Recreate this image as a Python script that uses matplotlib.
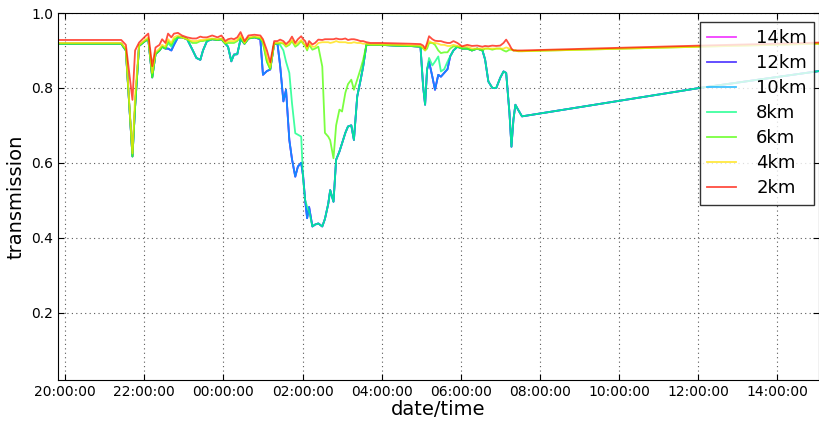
import matplotlib
matplotlib.use("Agg")
import matplotlib.pyplot as plt
import matplotlib.dates as mdates
import numpy as np
import pandas as pd

times = ["19:49", "21:25", "21:32", "21:42", "21:46", "21:52", "22:01", "22:06", "22:12", "22:17",
         "22:23", "22:27", "22:32", "22:36", "22:41", "22:45", "22:51", "22:57", "23:05", "23:13",
         "23:19", "23:25", "23:29", "23:35", "23:43", "23:51", "23:57", "00:03", "00:07", "00:12",
         "00:16", "00:21", "00:26", "00:32", "00:38", "00:47", "00:56", "01:00", "01:06", "01:11",
         "01:17", "01:22", "01:26", "01:31", "01:35", "01:40", "01:44", "01:49", "01:53", "01:58",
         "02:01", "02:04", "02:07", "02:10", "02:15", "02:19", "02:24", "02:30", "02:34", "02:39",
         "02:42", "02:47", "02:51", "02:56", "03:00", "03:05", "03:09", "03:14", "03:18", "03:23",
         "03:28", "03:32", "03:37", "03:43", "03:58", "04:21", "04:43", "04:59", "05:03", "05:06",
         "05:09", "05:12", "05:17", "05:21", "05:26", "05:30", "05:35", "05:40", "05:44", "05:49",
         "05:55", "06:02", "06:10", "06:17", "06:25", "06:33", "06:37", "06:42", "06:48", "06:54",
         "07:00", "07:05", "07:09", "07:14", "07:17", "07:20", "07:23", "07:27", "07:33", "12:03",
         "15:04"]

km2 = [0.928, 0.928, 0.915, 0.768, 0.900, 0.921, 0.937, 0.945, 0.858, 0.908,
       0.915, 0.930, 0.920, 0.945, 0.935, 0.945, 0.947, 0.940, 0.935, 0.932,
       0.932, 0.937, 0.935, 0.935, 0.940, 0.935, 0.940, 0.925, 0.930, 0.932,
       0.930, 0.935, 0.949, 0.925, 0.940, 0.942, 0.940, 0.930, 0.900, 0.868,
       0.925, 0.925, 0.929, 0.925, 0.917, 0.925, 0.937, 0.920, 0.930, 0.938,
       0.930, 0.925, 0.911, 0.925, 0.916, 0.920, 0.929, 0.928, 0.930, 0.930,
       0.930, 0.930, 0.932, 0.930, 0.930, 0.932, 0.928, 0.930, 0.930, 0.928,
       0.925, 0.925, 0.922, 0.920, 0.920, 0.919, 0.918, 0.917, 0.913, 0.905,
       0.920, 0.938, 0.930, 0.926, 0.925, 0.925, 0.922, 0.920, 0.920, 0.925,
       0.920, 0.911, 0.915, 0.912, 0.913, 0.910, 0.912, 0.911, 0.913, 0.912,
       0.913, 0.920, 0.929, 0.915, 0.905, 0.900, 0.900, 0.900, 0.900, 0.913,
       0.921]

km4 = [0.920, 0.920, 0.905, 0.625, 0.780, 0.915, 0.928, 0.935, 0.840, 0.895,
       0.905, 0.915, 0.910, 0.930, 0.920, 0.935, 0.940, 0.935, 0.930, 0.925,
       0.925, 0.928, 0.928, 0.930, 0.932, 0.930, 0.932, 0.920, 0.925, 0.925,
       0.925, 0.928, 0.940, 0.920, 0.935, 0.937, 0.935, 0.925, 0.880, 0.855,
       0.920, 0.920, 0.922, 0.920, 0.912, 0.918, 0.928, 0.915, 0.920, 0.928,
       0.920, 0.915, 0.905, 0.918, 0.910, 0.910, 0.920, 0.922, 0.922, 0.922,
       0.920, 0.922, 0.925, 0.922, 0.922, 0.922, 0.920, 0.920, 0.922, 0.920,
       0.920, 0.918, 0.918, 0.916, 0.916, 0.915, 0.914, 0.913, 0.908, 0.900,
       0.912, 0.925, 0.920, 0.920, 0.918, 0.915, 0.915, 0.912, 0.912, 0.915,
       0.912, 0.910, 0.910, 0.905, 0.905, 0.905, 0.905, 0.905, 0.905, 0.905,
       0.905, 0.905, 0.908, 0.905, 0.902, 0.900, 0.900, 0.898, 0.898, 0.910,
       0.918]

km6 = [0.918, 0.918, 0.900, 0.617, 0.750, 0.912, 0.925, 0.930, 0.828, 0.890,
       0.900, 0.910, 0.905, 0.925, 0.915, 0.930, 0.935, 0.935, 0.930, 0.920,
       0.920, 0.925, 0.925, 0.928, 0.930, 0.928, 0.930, 0.918, 0.920, 0.920,
       0.920, 0.925, 0.935, 0.918, 0.932, 0.935, 0.932, 0.920, 0.870, 0.850,
       0.918, 0.918, 0.920, 0.918, 0.910, 0.915, 0.925, 0.910, 0.915, 0.925,
       0.918, 0.912, 0.900, 0.915, 0.902, 0.905, 0.910, 0.857, 0.680, 0.670,
       0.660, 0.612, 0.700, 0.742, 0.737, 0.787, 0.810, 0.822, 0.795, 0.822,
       0.850, 0.875, 0.915, 0.915, 0.915, 0.913, 0.912, 0.910, 0.905, 0.900,
       0.905, 0.920, 0.920, 0.915, 0.900, 0.893, 0.895, 0.895, 0.905, 0.911,
       0.910, 0.905, 0.905, 0.900, 0.905, 0.900, 0.905, 0.905, 0.902, 0.905,
       0.905, 0.900, 0.897, 0.902, 0.902, 0.900, 0.900, 0.898, 0.898, 0.910,
       0.918]

km8 = [0.918, 0.918, 0.900, 0.617, 0.750, 0.912, 0.925, 0.930, 0.828, 0.890,
       0.900, 0.910, 0.905, 0.920, 0.910, 0.925, 0.935, 0.935, 0.930, 0.902,
       0.880, 0.875, 0.900, 0.925, 0.930, 0.928, 0.930, 0.918, 0.910, 0.871,
       0.889, 0.890, 0.930, 0.918, 0.932, 0.935, 0.932, 0.920, 0.870, 0.850,
       0.918, 0.918, 0.915, 0.900, 0.870, 0.840, 0.760, 0.679, 0.675, 0.670,
       0.554, 0.500, 0.483, 0.470, 0.430, 0.435, 0.438, 0.430, 0.450, 0.490,
       0.527, 0.496, 0.608, 0.630, 0.652, 0.680, 0.697, 0.700, 0.661, 0.777,
       0.820, 0.857, 0.916, 0.915, 0.915, 0.913, 0.912, 0.910, 0.804, 0.755,
       0.849, 0.880, 0.860, 0.870, 0.884, 0.844, 0.850, 0.870, 0.884, 0.900,
       0.910, 0.905, 0.905, 0.900, 0.905, 0.900, 0.876, 0.817, 0.800, 0.800,
       0.827, 0.844, 0.840, 0.733, 0.643, 0.715, 0.755, 0.742, 0.724, 0.800,
       0.845]

km10 = [0.918, 0.918, 0.900, 0.617, 0.750, 0.912, 0.925, 0.930, 0.828, 0.890,
        0.900, 0.910, 0.905, 0.905, 0.900, 0.915, 0.935, 0.935, 0.930, 0.902,
        0.880, 0.875, 0.900, 0.925, 0.930, 0.928, 0.930, 0.918, 0.910, 0.871,
        0.889, 0.890, 0.930, 0.918, 0.932, 0.935, 0.930, 0.835, 0.845, 0.849,
        0.918, 0.918, 0.860, 0.764, 0.795, 0.661, 0.610, 0.563, 0.590, 0.600,
        0.563, 0.500, 0.452, 0.482, 0.430, 0.435, 0.438, 0.430, 0.450, 0.490,
        0.527, 0.496, 0.608, 0.630, 0.652, 0.680, 0.697, 0.700, 0.661, 0.777,
        0.820, 0.857, 0.916, 0.915, 0.915, 0.913, 0.912, 0.910, 0.804, 0.755,
        0.849, 0.870, 0.830, 0.795, 0.835, 0.830, 0.840, 0.850, 0.884, 0.900,
        0.910, 0.905, 0.905, 0.900, 0.905, 0.900, 0.876, 0.817, 0.800, 0.800,
        0.827, 0.844, 0.840, 0.733, 0.643, 0.715, 0.755, 0.742, 0.724, 0.800,
        0.845]

# 12km and 14km sit exactly under the 10km trace in the picture
km12 = list(km10)
km14 = list(km10)

labels = ["14km", "12km", "10km", "8km", "6km", "4km", "2km"]
series = [km14, km12, km10, km8, km6, km4, km2]


def to_datetime(t):
    day = "2012-06-01" if t >= "19:00" else "2012-06-02"
    return pd.Timestamp(day + " " + t)


x = [to_datetime(t) for t in times]

fig = plt.figure(figsize=(8.19, 4.21), dpi=100)
ax = fig.add_axes([0.0708, 0.0974, 0.9295, 0.8717])

colors = plt.cm.hsv(np.linspace(5 / 6, 0.015, len(labels)))
for vals, lab, col in zip(series, labels, colors):
    ax.plot(x, vals, color=col, alpha=0.75, linewidth=1.3, label=lab)

ax.set_xlim(x[0], x[-1])
ax.set_ylim(0.02, 1.0)
ax.set_yticks([0.2, 0.4, 0.6, 0.8, 1.0])
ax.xaxis.set_major_locator(mdates.HourLocator(byhour=range(0, 24, 2)))
ax.xaxis.set_major_formatter(mdates.DateFormatter("%H:%M:%S"))
ax.tick_params(direction="in", top=True, right=True, labelsize=10, length=4)
ax.grid(True, linestyle=(0, (1, 3)), color="0.35", linewidth=0.8)
ax.set_xlabel("date/time", fontsize=14, labelpad=1)
ax.set_ylabel("transmission", fontsize=14)

leg = ax.legend(loc="upper right", bbox_to_anchor=(0.9934, 0.9755), borderaxespad=0,
                fontsize=13, fancybox=False, handlelength=1.6,
                handletextpad=1.1, labelspacing=0.39)
leg.get_frame().set_edgecolor("black")

fig.savefig("out.png", dpi=100)
